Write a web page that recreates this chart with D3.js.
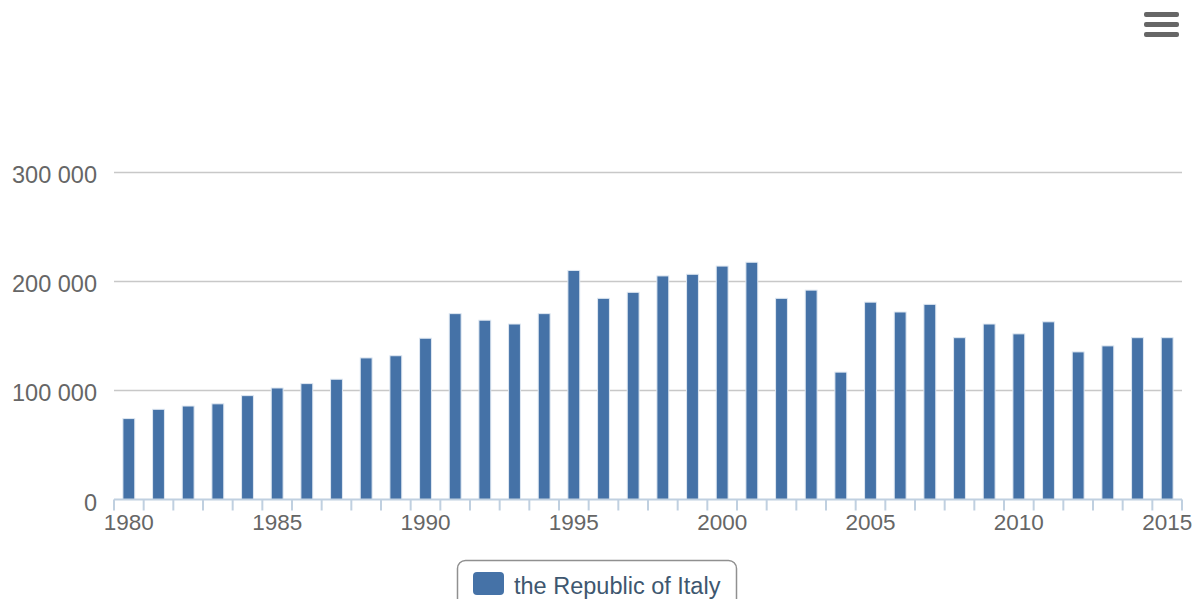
<!DOCTYPE html>
<html>
<head>
<meta charset="utf-8">
<script src="https://cdn.jsdelivr.net/npm/d3@7"></script>
<style>
  body { margin: 0; background: #fff; }
  svg { display: block; font-family: "Liberation Sans", Arial, sans-serif; }
</style>
</head>
<body>
<svg width="1196" height="599"></svg>
<script>
// data
const years = d3.range(1980, 2016);
const values = [
  74000, 82500, 85500, 87500, 95000, 102000, 106000, 110000, 129500, 131500,
  147500, 170000, 164000, 160500, 170000, 209500, 184000, 189500, 204500, 206000,
  213500, 217000, 184000, 191500, 116500, 180500, 171500, 178500, 148000, 160500,
  151500, 162500, 135000, 140500, 148000, 148000
];
const yTicks = [0, 100000, 200000, 300000];
const labelYears = [1980, 1985, 1990, 1995, 2000, 2005, 2010, 2015];
const seriesName = "the Republic of Italy";

const svg = d3.select("svg");
const plotLeft = 114, plotRight = 1182, plotBottom = 499.5, plotTop = 171.5;

const x = d3.scaleBand()
  .domain(years)
  .range([plotLeft, plotRight])
  .paddingInner(0.6)
  .paddingOuter(0.3);

const y = d3.scaleLinear()
  .domain([0, 300000])
  .range([plotBottom, plotTop]);

const fmt = v => d3.format(",")(v).replace(/,/g, " ");

// grid lines
svg.append("g")
  .selectAll("line")
  .data(yTicks.filter(d => d > 0))
  .join("line")
  .attr("x1", plotLeft).attr("x2", plotRight)
  .attr("y1", d => Math.round(y(d)) + 0.5)
  .attr("y2", d => Math.round(y(d)) + 0.5)
  .attr("stroke", "#c8c8c8")
  .attr("stroke-width", 1.5);

// y labels
svg.append("g")
  .selectAll("text")
  .data(yTicks)
  .join("text")
  .attr("x", 97)
  .attr("y", d => y(d) + 11)
  .attr("text-anchor", "end")
  .attr("font-size", 23.5)
  .attr("fill", "#666")
  .text(fmt);

// bars
svg.append("g")
  .selectAll("rect")
  .data(years)
  .join("rect")
  .attr("x", d => x(d))
  .attr("width", x.bandwidth())
  .attr("y", (d, i) => y(values[i]))
  .attr("height", (d, i) => plotBottom - y(values[i]))
  .attr("fill", "#4572a7")
  .attr("stroke", "#dfe8f2")
  .attr("stroke-width", 1);

// x axis line and ticks on category boundaries
const step = x.step();
const axis = svg.append("g");
axis.append("line")
  .attr("x1", plotLeft).attr("x2", plotRight)
  .attr("y1", plotBottom).attr("y2", plotBottom)
  .attr("stroke", "#c0d0e0")
  .attr("stroke-width", 2);
axis.selectAll("line.tick")
  .data(d3.range(years.length + 1))
  .join("line")
  .attr("class", "tick")
  .attr("x1", i => plotLeft + i * step)
  .attr("x2", i => plotLeft + i * step)
  .attr("y1", plotBottom)
  .attr("y2", plotBottom + 11)
  .attr("stroke", "#c0d0e0")
  .attr("stroke-width", 2);
axis.selectAll("text")
  .data(labelYears)
  .join("text")
  .attr("x", d => x(d) + x.bandwidth() / 2)
  .attr("y", 530)
  .attr("text-anchor", "middle")
  .attr("font-size", 22.5)
  .attr("fill", "#666")
  .text(d => d);

// legend
const legend = svg.append("g");
legend.append("rect")
  .attr("x", 457.5).attr("y", 560.5)
  .attr("width", 279).attr("height", 60)
  .attr("rx", 8)
  .attr("fill", "#fff")
  .attr("stroke", "#909090")
  .attr("stroke-width", 1.5);
legend.append("rect")
  .attr("x", 473).attr("y", 572)
  .attr("width", 31).attr("height", 23)
  .attr("rx", 4)
  .attr("fill", "#4572a7");
legend.append("text")
  .attr("x", 514).attr("y", 594)
  .attr("font-size", 23.5)
  .attr("fill", "#3e576f")
  .text(seriesName);

// export menu icon
svg.append("g")
  .selectAll("rect")
  .data([14.5, 24.5, 34.5])
  .join("rect")
  .attr("x", 1144).attr("y", d => d - 2.5)
  .attr("width", 35).attr("height", 5)
  .attr("rx", 2)
  .attr("fill", "#666");
</script>
</body>
</html>
